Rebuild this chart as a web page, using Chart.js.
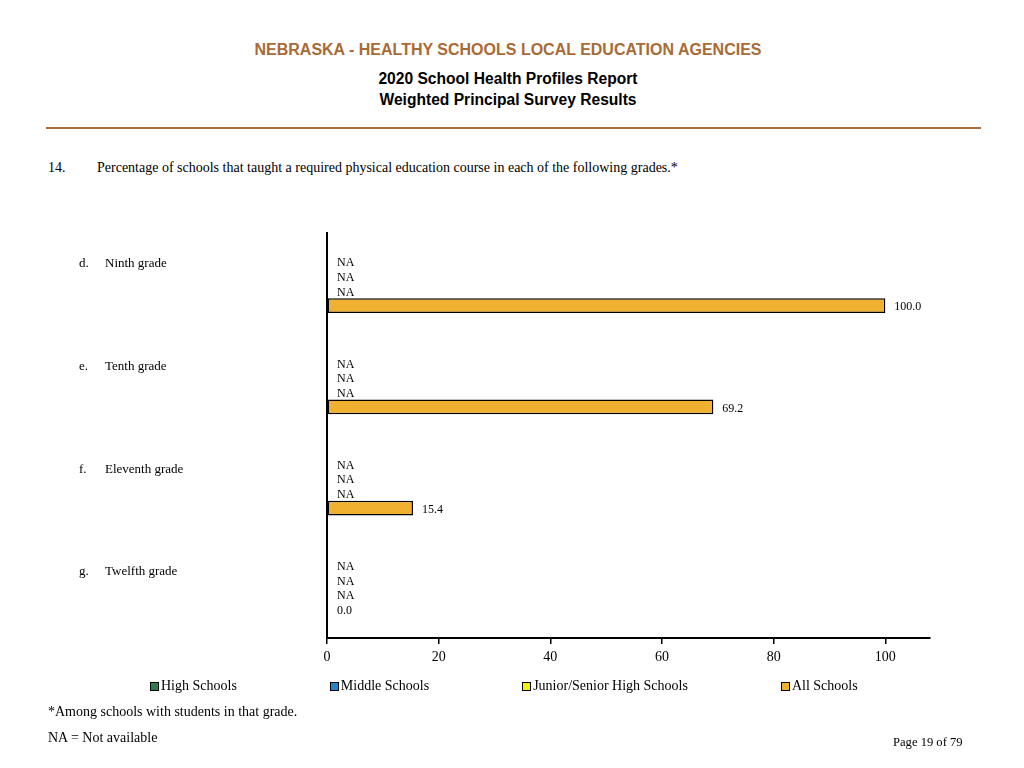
<!DOCTYPE html>
<html>
<head>
<meta charset="utf-8">
<script src="https://cdn.jsdelivr.net/npm/chart.js@4.4.1/dist/chart.umd.min.js"></script>
<style>
  html, body { margin: 0; padding: 0; background: #fff; }
  body { width: 1024px; height: 768px; position: relative; overflow: hidden; font-family: 'Liberation Serif', 'Times New Roman', serif; color: #000; }
  #wrap { position: absolute; left: 0; top: 0; width: 1024px; height: 768px; }
  .t { position: absolute; white-space: nowrap; }
  .head { left: 0; width: 1016px; text-align: center; font-family: 'Liberation Sans', Arial, sans-serif; font-weight: bold; line-height: 18px; }
  #rule { position: absolute; left: 46px; top: 127px; width: 935px; height: 2px; background: #a87040; }
  #legend { position: absolute; left: 150px; top: 678px; display: flex; font-size: 14px; line-height: 16px; }
  #legend .item { display: flex; align-items: center; margin-right: 93px; }
  #legend .box { width: 7px; height: 7px; border: 1px solid #000; margin-right: 2px; }
</style>
</head>
<body>
<div class="t head" style="top:41px;font-size:16px;color:#a86b36;">NEBRASKA - HEALTHY SCHOOLS LOCAL EDUCATION AGENCIES</div>
<div class="t head" style="top:70px;font-size:15.6px;">2020 School Health Profiles Report</div>
<div class="t head" style="top:91px;font-size:15.6px;">Weighted Principal Survey Results</div>
<div id="rule"></div>
<div class="t" style="left:48px;top:160px;font-size:14px;line-height:16px;">14.</div>
<div class="t" style="left:97px;top:160px;font-size:14px;line-height:16px;">Percentage of schools that taught a required physical education course in each of the following grades.*</div>

<div id="wrap"><canvas id="chart" width="1024" height="768"></canvas></div>

<div id="legend"></div>
<div class="t" style="left:48px;top:704px;font-size:14px;line-height:16px;">*Among schools with students in that grade.</div>
<div class="t" style="left:48px;top:730px;font-size:14px;line-height:16px;">NA = Not available</div>
<div class="t" style="left:893px;top:735px;font-size:12.6px;line-height:14px;">Page 19 of 79</div>

<script>
// Question 14 – required PE course by grade
const letters    = ['d.', 'e.', 'f.', 'g.'];
const categories = ['Ninth grade', 'Tenth grade', 'Eleventh grade', 'Twelfth grade'];

const seriesNames  = ['High Schools', 'Middle Schools', 'Junior/Senior High Schools', 'All Schools'];
const seriesColors = ['#2e7d4f', '#1f87c8', '#f2f200', '#f0b030'];

// null = NA (not available)
const highSchools   = [null, null, null, null];
const middleSchools = [null, null, null, null];
const juniorSenior  = [null, null, null, null];
const allSchools    = [100.0, 69.2, 15.4, 0.0];

const xTicks = [0, 20, 40, 60, 80, 100];

const SERIF = "'Liberation Serif', 'Times New Roman', serif";

// legend (html, fixed spacing like the report)
const legendEl = document.getElementById('legend');
seriesNames.forEach((name, i) => {
  const item = document.createElement('div');
  item.className = 'item';
  item.innerHTML = `<span class="box" style="background:${seriesColors[i]}"></span><span>${name}</span>`;
  legendEl.appendChild(item);
});

// value labels: "NA" for missing, number after the bar end
const valueLabels = {
  id: 'valueLabels',
  afterDatasetsDraw(chart) {
    const ctx = chart.ctx;
    const x0 = chart.scales.x.getPixelForValue(0);
    ctx.save();
    ctx.font = `12px ${SERIF}`;
    ctx.fillStyle = '#000';
    ctx.textAlign = 'left';
    ctx.textBaseline = 'middle';
    chart.data.datasets.forEach((ds, i) => {
      chart.getDatasetMeta(i).data.forEach((el, j) => {
        const v = ds.data[j];
        const y = el.y + 1.5;
        if (v === null) ctx.fillText('NA', x0 + 10, y);
        else if (v === 0) ctx.fillText(v.toFixed(1), x0 + 10, y);
        else ctx.fillText(v.toFixed(1), el.x + 9, y);
      });
    });
    ctx.restore();
  }
};

// category labels on the left, level with the first bar of each group
const categoryLabels = {
  id: 'categoryLabels',
  afterDraw(chart) {
    const ctx = chart.ctx;
    const meta = chart.getDatasetMeta(0);
    ctx.save();
    ctx.font = `13px ${SERIF}`;
    ctx.fillStyle = '#000';
    ctx.textBaseline = 'middle';
    categories.forEach((c, j) => {
      const y = meta.data[j].y + 2 + j * 1.5;
      ctx.fillText(letters[j], 79, y);
      ctx.fillText(c, 105, y);
    });
    ctx.restore();
  }
};

const seriesData = [highSchools, middleSchools, juniorSenior, allSchools];

new Chart(document.getElementById('chart'), {
  type: 'bar',
  data: {
    labels: categories,
    datasets: seriesNames.map((name, i) => ({
      label: name,
      data: seriesData[i],
      backgroundColor: seriesColors[i],
      borderColor: '#000',
      borderWidth: 1.5,
      borderSkipped: false,
      barPercentage: 1.0,
      categoryPercentage: 0.58,
    }))
  },
  options: {
    indexAxis: 'y',
    responsive: false,
    animation: false,
    layout: { padding: { left: 80, right: 94, top: 233, bottom: 100 } },
    plugins: {
      legend: { display: false },
      tooltip: { enabled: false }
    },
    scales: {
      y: {
        type: 'category',
        grid: { display: false, drawTicks: false },
        border: { display: true, color: '#000', width: 2 },
        ticks: { display: false },
        afterFit: s => { s.width = 247; }
      },
      x: {
        min: 0,
        max: 108,
        afterBuildTicks: s => { s.ticks = xTicks.map(v => ({ value: v })); },
        grid: { drawOnChartArea: false, drawTicks: true, tickLength: 6, color: '#000', lineWidth: 1.5 },
        border: { display: true, color: '#000', width: 2 },
        ticks: { color: '#000', font: { family: SERIF, size: 14 }, padding: 5, callback: v => v },
        afterFit: s => { s.height = 30; }
      }
    }
  },
  plugins: [valueLabels, categoryLabels]
});
</script>
</body>
</html>
